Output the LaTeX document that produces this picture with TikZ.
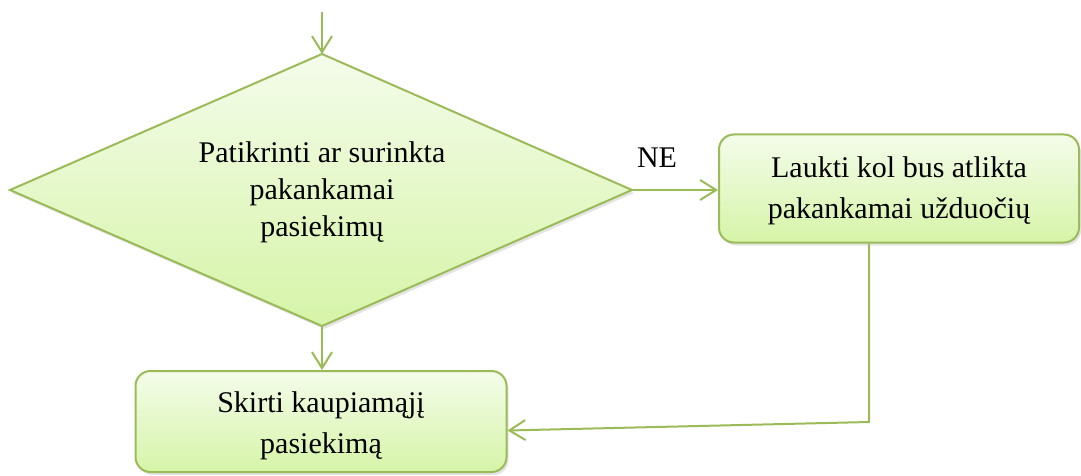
\documentclass[tikz,border=0pt]{standalone}
\usepackage{fontspec}
\setmainfont{Liberation Serif}
\usetikzlibrary{shadows,arrows.meta,calc}
\definecolor{edge}{RGB}{155,187,89}
\definecolor{filltop}{RGB}{244,252,234}
\definecolor{fillbot}{RGB}{214,244,168}
\tikzset{
  flow/.style={draw=edge, line width=2pt, top color=filltop, bottom color=fillbot,
    drop shadow={shadow xshift=2pt, shadow yshift=-3pt, fill=black!35, opacity=0.3}},
  arr/.style={draw=edge, line width=2pt, -{Straight Barb[length=16pt,width=20pt,line width=2pt]}},
  txt/.style={align=center, font=\fontsize{30}{37}\selectfont},
  boxtxt/.style={align=center, font=\fontsize{30}{41}\selectfont},
}
\begin{document}
\begin{tikzpicture}[x=1pt,y=-1pt]
\useasboundingbox (0,0) rectangle (1081,476);
% diamond
\path[flow] (322,54) -- (632,190) -- (322,326) -- (10,190) -- cycle;
\node[txt] (pat) at (322,192) {Patikrinti ar surinkta\\pakankamai\\pasiekimų};
\coordinate (dtop) at (322,54);
\coordinate (dright) at (632,190);
\coordinate (dbot) at (322,326);
\coordinate (start) at (322,12);
% right box
\node[flow, rounded corners=15pt, minimum width=360pt, minimum height=108pt, inner sep=0pt] (lk) at (899,188.5) {};
\node[boxtxt] (lkt) at (899,191) {Laukti kol bus atlikta\\pakankamai užduočių};
% bottom box
\node[flow, rounded corners=15pt, minimum width=371pt, minimum height=101pt, inner sep=0pt] (sk) at (321,421.5) {};
\node[boxtxt] (skt) at (321,426) {Skirti kaupiamąjį\\pasiekimą};
% connectors
\draw[arr] (start) -- (dtop);
\draw[arr] (dright) -- (lk.west |- dright);
\node[font=\fontsize{30}{36}\selectfont] (ne) at (657,158) {NE};
\draw[arr] (dbot) -- (sk.north -| dbot);
\coordinate (corner) at (869,422);
\draw[arr] (lk.south -| corner) -- (corner) -- ($(sk.east)+(0,9)$);
\end{tikzpicture}
\end{document}
